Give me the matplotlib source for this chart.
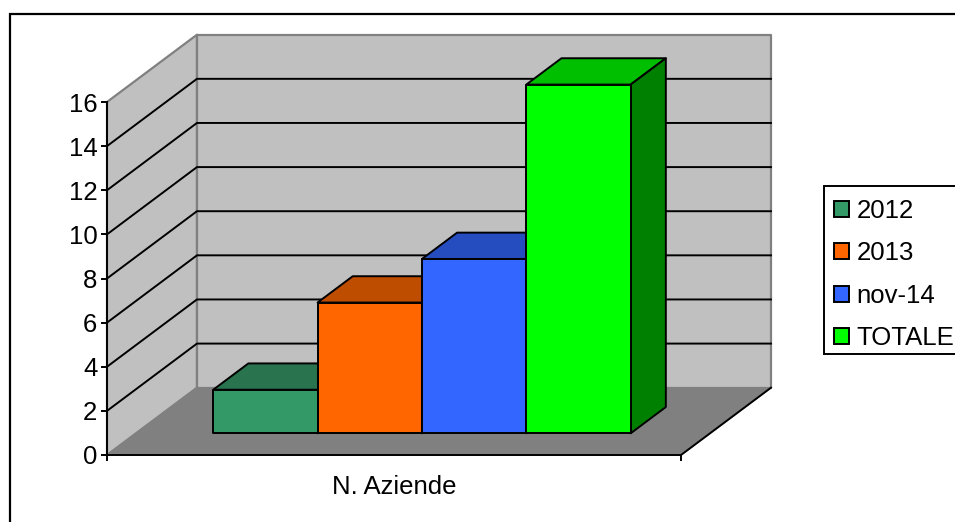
import matplotlib
matplotlib.use('Agg')
import matplotlib.pyplot as plt
from matplotlib.patches import Polygon, Rectangle

series = ['2012', '2013', 'nov-14', 'TOTALE']
values = [2, 6, 8, 16]
yticks = [0, 2, 4, 6, 8, 10, 12, 14, 16]
category = 'N. Aziende'

front_colors = ['#339966', '#FF6600', '#3366FF', '#00FF00']
top_colors = ['#29734F', '#BF4D00', '#264DBF', '#00BF00']
side_colors = ['#1F5C40', '#993D00', '#1F3D99', '#008000']

W, H = 955, 522
plt.rcParams['font.family'] = ['Liberation Sans', 'DejaVu Sans']
plt.rcParams['font.size'] = 18.5

fig = plt.figure(figsize=(W / 100, H / 100), dpi=100)
ax = fig.add_axes([107 / W, 1 - 455 / H, 574 / W, 353 / H])
ax.set_xlim(0, 5.5)
ax.set_ylim(0, 16)
ax.patch.set_visible(False)

# depth of the 3d box in data units
depth_x = 0.862
depth_y = 3.05
bar_d0 = 0.322
bar_d1 = 0.713
bar_start = 0.74
bar_scale = 0.988  # bars sit a bit further back than the axis, so slightly shorter
line = 1.4


def sk(x, y, d):
    return (x + depth_x * d, y + depth_y * d)


def poly(points, face, edge, lw, z):
    ax.add_patch(Polygon(points, closed=True, facecolor=face, edgecolor=edge,
                         linewidth=lw, zorder=z, clip_on=False, joinstyle='round'))


# walls and floor
poly([sk(0, 0, 0), sk(0, 16, 0), sk(0, 16, 1), sk(0, 0, 1)], '#C0C0C0', '#808080', 1.6, 1)
poly([sk(0, 0, 1), sk(0, 16, 1), sk(5.5, 16, 1), sk(5.5, 0, 1)], '#C0C0C0', '#808080', 1.6, 1)
poly([sk(0, 0, 0), sk(5.5, 0, 0), sk(5.5, 0, 1), sk(0, 0, 1)], '#808080', '#808080', 1, 2)

# gridlines go round the side wall and the back wall
for t in yticks[1:-1]:
    p0, p1, p2 = sk(0, t, 0), sk(0, t, 1), sk(5.5, t, 1)
    ax.plot([p0[0], p1[0], p2[0]], [p0[1], p1[1], p2[1]], color='black', lw=line,
            zorder=3, clip_on=False, solid_joinstyle='miter')

# right edge of the floor
e0, e1 = sk(5.5, 0, 0), sk(5.5, 0, 1)
ax.plot([e0[0], e1[0]], [e0[1], e1[1]], color='black', lw=line, zorder=3, clip_on=False)

for i, v in enumerate(values):
    x0 = bar_start + i
    x1 = x0 + 1
    z = 4 + i
    h = v * bar_scale
    poly([sk(x0, h, bar_d0), sk(x1, h, bar_d0), sk(x1, h, bar_d1), sk(x0, h, bar_d1)],
         top_colors[i], 'black', line, z)
    poly([sk(x1, 0, bar_d0), sk(x1, h, bar_d0), sk(x1, h, bar_d1), sk(x1, 0, bar_d1)],
         side_colors[i], 'black', line, z)
    poly([sk(x0, 0, bar_d0), sk(x1, 0, bar_d0), sk(x1, h, bar_d0), sk(x0, h, bar_d0)],
         front_colors[i], 'black', line, z)

for s in ['top', 'right']:
    ax.spines[s].set_visible(False)
for s in ['left', 'bottom']:
    ax.spines[s].set_linewidth(line)
    ax.spines[s].set_zorder(10)

ax.set_yticks(yticks)
ax.set_xticks([0, 5.5])
ax.set_xticklabels(['', ''])
ax.set_xticks([2.75], [category], minor=True)
ax.tick_params(axis='x', which='minor', length=0, pad=14.3)
ax.tick_params(axis='both', which='major', length=4, width=line, pad=3, direction='out')

# legend frame drawn by hand, it runs off the right side like in the original
fig.add_artist(Rectangle((824 / W, 1 - 354 / H), 200 / W, 168 / H, transform=fig.transFigure,
                         facecolor='white', edgecolor='black', linewidth=line, zorder=15))
handles = [Rectangle((0, 0), 1, 1, facecolor=c, edgecolor='black', linewidth=line) for c in front_colors]
leg = fig.legend(handles, series, loc='upper left', bbox_to_anchor=(824 / W, 1 - 189 / H),
                 bbox_transform=fig.transFigure, borderaxespad=0, frameon=False,
                 handlelength=0.58, handleheight=0.58,
                 handletextpad=0.3, labelspacing=0.72, borderpad=0.38)
leg.set_zorder(16)

# chart area border, only left and top fall inside the picture
fig.add_artist(Rectangle((10 / W, -0.05), 1.1, 1 - 14 / H + 0.05, transform=fig.transFigure,
                         fill=False, edgecolor='black', linewidth=1.6, zorder=20))

fig.savefig('out.png', dpi=100)
